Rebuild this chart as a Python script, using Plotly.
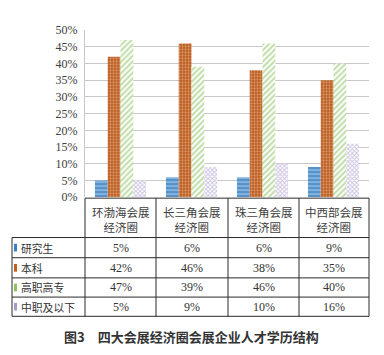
import plotly.graph_objects as go

regions = ["环渤海会展<br>经济圈", "长三角会展<br>经济圈", "珠三角会展<br>经济圈", "中西部会展<br>经济圈"]
series_names = ["研究生", "本科", "高职高专", "中职及以下"]
grad = [5, 6, 6, 9]
bachelor = [42, 46, 38, 35]
college = [47, 39, 46, 40]
vocational = [5, 9, 10, 16]
y_ticks = [0, 5, 10, 15, 20, 25, 30, 35, 40, 45, 50]
caption = "图3　四大会展经济圈会展企业人才学历结构"

series_values = [grad, bachelor, college, vocational]
styles = [
    dict(shape="-", bg="#7fb2e0", fg="#1d5e9e", size=4, sol=0.4, key="#3b7fc4"),
    dict(shape=".", bg="#b9581a", fg="#f6d6b8", size=3, sol=0.45, key="#c0611e"),
    dict(shape="/", bg="#ffffff", fg="#7fbb4e", size=4, sol=0.5, key="#8cc45a"),
    dict(shape="x", bg="#ffffff", fg="#9585c0", size=3, sol=0.5, key="#a898cc"),
]

W, H = 384, 355
def px(x):
    return x / W
def py(y):
    return 1 - y / H

fig = go.Figure()
xcats = [r.replace("<br>", "") for r in regions]
for name, vals, st in zip(series_names, series_values, styles):
    fig.add_trace(go.Bar(
        x=xcats, y=[v / 100 for v in vals], name=name,
        marker=dict(color=st["bg"], line=dict(width=0),
                    pattern=dict(shape=st["shape"], fgcolor=st["fg"], bgcolor=st["bg"],
                                 size=st["size"], solidity=st["sol"], fillmode="overlay")),
        showlegend=False,
    ))

fig.update_layout(
    width=W, height=H, margin=dict(l=0, r=0, t=0, b=0),
    paper_bgcolor="white", plot_bgcolor="white",
    barmode="group", bargap=0.28, bargroupgap=0,
    xaxis=dict(domain=[px(85), px(369)], showticklabels=False, showgrid=False,
               showline=False, zeroline=False, ticks=""),
    yaxis=dict(domain=[py(198), py(24)], range=[0, 0.5], tickvals=[t / 100 for t in y_ticks],
               ticktext=[f"{t}%" for t in y_ticks], showgrid=True, gridcolor="#c8c8c8",
               gridwidth=1, zeroline=False, showline=True, linecolor="#c8c8c8",
               tickfont=dict(family="Liberation Serif", size=12, color="#404040"),
               ticks="", ticklabelstandoff=4),
)

shapes = []
line = dict(color="#2a2a2a", width=1)
col_x = [85, 156, 228, 299, 369]
row_y = [240, 261, 282, 302, 322]
shapes.append(dict(type="line", xref="paper", yref="paper", x0=px(85), x1=px(369), y0=py(199), y1=py(199), line=line))
for yy in row_y:
    shapes.append(dict(type="line", xref="paper", yref="paper", x0=px(12), x1=px(369), y0=py(yy), y1=py(yy), line=line))
for xx in col_x:
    shapes.append(dict(type="line", xref="paper", yref="paper", x0=px(xx), x1=px(xx), y0=py(199), y1=py(322), line=line))
shapes.append(dict(type="line", xref="paper", yref="paper", x0=px(12), x1=px(12), y0=py(240), y1=py(322), line=line))

annotations = []
for i, r in enumerate(regions):
    cx = (col_x[i] + col_x[i + 1]) / 2
    annotations.append(dict(x=px(cx), y=py(221), xref="paper", yref="paper", text=r, showarrow=False,
                            font=dict(family="Noto Sans CJK SC", size=11.5, color="#404040"),
                            xanchor="center", yanchor="middle", align="center"))
for j, (name, vals, st) in enumerate(zip(series_names, series_values, styles)):
    top, bot = row_y[j], row_y[j + 1]
    cy = (top + bot) / 2
    shapes.append(dict(type="rect", xref="paper", yref="paper", x0=px(14), x1=px(17),
                       y0=py(cy + 4), y1=py(cy - 4), fillcolor=st["key"], line=dict(width=0)))
    annotations.append(dict(x=px(19), y=py(cy), xref="paper", yref="paper", text=name, showarrow=False,
                            font=dict(family="Noto Sans CJK SC", size=10.8, color="#333333"),
                            xanchor="left", yanchor="middle"))
    for i, v in enumerate(vals):
        cx = (col_x[i] + col_x[i + 1]) / 2
        annotations.append(dict(x=px(cx), y=py(cy), xref="paper", yref="paper", text=f"{v}%", showarrow=False,
                                font=dict(family="Liberation Serif", size=12, color="#333333"),
                                xanchor="center", yanchor="middle"))
annotations.append(dict(x=px(191), y=py(343), xref="paper", yref="paper", text=f"<b>{caption}</b>",
                        showarrow=False, font=dict(family="Noto Sans CJK SC", size=13, color="#333333"),
                        xanchor="center", yanchor="middle"))

fig.update_layout(shapes=shapes, annotations=annotations)
fig.write_html("out.html")
